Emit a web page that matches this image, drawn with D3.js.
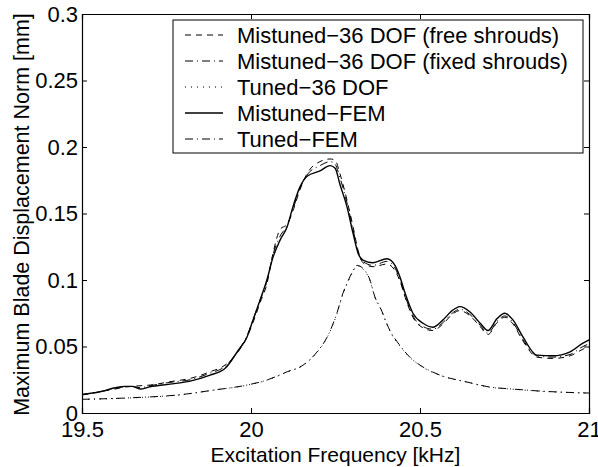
<!DOCTYPE html>
<html>
<head>
<meta charset="utf-8">
<script src="https://cdn.jsdelivr.net/npm/d3@7"></script>
<style>
  body { margin: 0; background: #fff; }
  svg { font-family: "Liberation Sans", Arial, Helvetica, sans-serif; }
</style>
</head>
<body>
<svg id="chart" width="598" height="467"></svg>
<script>
// frequency grid [kHz] and curves
const freqMist = [19.5, 19.553, 19.598, 19.627, 19.648, 19.672, 19.701, 19.76, 19.82, 19.879, 19.923, 19.962, 19.988, 20.006, 20.027, 20.047, 20.065, 20.086, 20.107, 20.124, 20.145, 20.166, 20.204, 20.234, 20.249, 20.263, 20.284, 20.302, 20.317, 20.331, 20.361, 20.402, 20.426, 20.441, 20.456, 20.479, 20.509, 20.538, 20.568, 20.595, 20.618, 20.648, 20.678, 20.701, 20.728, 20.751, 20.775, 20.805, 20.846, 20.893, 20.944, 20.982, 21.0];

const mistunedFEM = [0.014, 0.016, 0.019, 0.020, 0.020, 0.018, 0.0197, 0.0217, 0.024, 0.0285, 0.0335, 0.047, 0.057, 0.070, 0.085, 0.100, 0.117, 0.130, 0.140, 0.155, 0.170, 0.178, 0.182, 0.186, 0.184, 0.172, 0.155, 0.135, 0.120, 0.115, 0.113, 0.116, 0.111, 0.102, 0.090, 0.075, 0.0675, 0.0645, 0.070, 0.077, 0.080, 0.076, 0.0675, 0.062, 0.071, 0.075, 0.070, 0.057, 0.0435, 0.043, 0.046, 0.0525, 0.055];

const mistunedFree = [0.0135, 0.016, 0.018, 0.0195, 0.020, 0.0205, 0.021, 0.0235, 0.026, 0.031, 0.036, 0.046, 0.057, 0.068, 0.083, 0.097, 0.120, 0.138, 0.142, 0.152, 0.168, 0.180, 0.189, 0.191, 0.190, 0.180, 0.160, 0.140, 0.122, 0.113, 0.110, 0.112, 0.107, 0.099, 0.087, 0.072, 0.064, 0.062, 0.067, 0.074, 0.077, 0.073, 0.065, 0.059, 0.068, 0.072, 0.067, 0.054, 0.042, 0.041, 0.043, 0.048, 0.050];

const mistunedFixed = [0.0138, 0.016, 0.0185, 0.0198, 0.020, 0.019, 0.0205, 0.023, 0.025, 0.030, 0.035, 0.047, 0.058, 0.070, 0.085, 0.099, 0.119, 0.133, 0.141, 0.153, 0.169, 0.179, 0.186, 0.189, 0.187, 0.177, 0.158, 0.138, 0.121, 0.114, 0.111, 0.114, 0.109, 0.100, 0.088, 0.073, 0.065, 0.063, 0.068, 0.075, 0.078, 0.074, 0.066, 0.060, 0.069, 0.073, 0.068, 0.055, 0.043, 0.042, 0.044, 0.050, 0.052];

const freqTuned = [19.5, 19.65, 19.8, 19.888, 19.988, 20.047, 20.107, 20.154, 20.195, 20.225, 20.254, 20.272, 20.284, 20.3, 20.314, 20.33, 20.352, 20.367, 20.382, 20.411, 20.44, 20.47, 20.5, 20.559, 20.639, 20.707, 20.775, 20.855, 21.0];

const tunedFEM = [0.0103, 0.0115, 0.014, 0.0172, 0.021, 0.0248, 0.031, 0.036, 0.0458, 0.057, 0.075, 0.090, 0.0975, 0.106, 0.111, 0.109, 0.100, 0.087, 0.0795, 0.062, 0.051, 0.042, 0.036, 0.0285, 0.0233, 0.0195, 0.018, 0.0165, 0.015];

const tuned36 = [0.0102, 0.0114, 0.0139, 0.0171, 0.0209, 0.0247, 0.0308, 0.0358, 0.0455, 0.0566, 0.0745, 0.0895, 0.097, 0.1055, 0.1105, 0.1085, 0.0995, 0.0865, 0.079, 0.0615, 0.0505, 0.0418, 0.0358, 0.0284, 0.0232, 0.0194, 0.0179, 0.0164, 0.0149];

const xTicks = [19.5, 20, 20.5, 21];
const yTicks = [0, 0.05, 0.1, 0.15, 0.2, 0.25, 0.3];

const legendLabels = [
  "Mistuned\u221236 DOF (free shrouds)",
  "Mistuned\u221236 DOF (fixed shrouds)",
  "Tuned\u221236 DOF",
  "Mistuned\u2212FEM",
  "Tuned\u2212FEM"
];

const series = [
  { x: freqMist, y: mistunedFree, dash: "6,5", w: 1 },
  { x: freqMist, y: mistunedFixed, dash: "8,4,1,4", w: 1 },
  { x: freqTuned, y: tuned36, dash: "1,5", w: 1 },
  { x: freqMist, y: mistunedFEM, dash: null, w: 1.4 },
  { x: freqTuned, y: tunedFEM, dash: "8,4,1,4", w: 1 }
];

const margin = { left: 82, right: 9, top: 14, bottom: 54 };
const W = 598, H = 467;
const svg = d3.select("#chart");

const x = d3.scaleLinear().domain([19.5, 21]).range([margin.left, W - margin.right]);
const y = d3.scaleLinear().domain([0, 0.3]).range([H - margin.bottom, margin.top]);

svg.append("defs").append("clipPath").attr("id", "clip")
  .append("rect")
  .attr("x", margin.left).attr("y", margin.top)
  .attr("width", W - margin.left - margin.right)
  .attr("height", H - margin.top - margin.bottom);

// curves
const line = d3.line().curve(d3.curveMonotoneX);
const plot = svg.append("g").attr("clip-path", "url(#clip)");
series.forEach(s => {
  plot.append("path")
    .datum(s.x.map((f, i) => [x(f), y(s.y[i])]))
    .attr("d", line)
    .attr("fill", "none")
    .attr("stroke", "#000")
    .attr("stroke-width", s.w)
    .attr("stroke-dasharray", s.dash);
});

// axes (ticks inside, MATLAB style)
const fontSize = 22;
const axBottom = svg.append("g").attr("transform", `translate(0,${y(0)})`)
  .call(d3.axisBottom(x).tickValues(xTicks).tickSize(-5).tickPadding(8).tickFormat(d3.format("")));
const axTop = svg.append("g").attr("transform", `translate(0,${y(0.3)})`)
  .call(d3.axisTop(x).tickValues(xTicks).tickSize(-5).tickFormat(""));
const axLeft = svg.append("g").attr("transform", `translate(${x(19.5)},0)`)
  .call(d3.axisLeft(y).tickValues(yTicks).tickSize(-5).tickPadding(4).tickFormat(d3.format("")));
const axRight = svg.append("g").attr("transform", `translate(${x(21)},0)`)
  .call(d3.axisRight(y).tickValues(yTicks).tickSize(-5).tickFormat(""));

[axBottom, axTop, axLeft, axRight].forEach(g => {
  g.select(".domain").attr("stroke", "#000").attr("stroke-width", 1.2);
  g.selectAll(".tick line").attr("stroke", "#000");
  g.selectAll("text").attr("fill", "#000").style("font-size", fontSize + "px")
    .style("font-family", '"Liberation Sans", Arial, sans-serif');
});

// axis titles
svg.append("text")
  .attr("x", (x(19.5) + x(21)) / 2)
  .attr("y", 462)
  .attr("text-anchor", "middle")
  .style("font-size", "21px")
  .text("Excitation Frequency [kHz]");

svg.append("text")
  .attr("transform", `translate(29,${(y(0) + y(0.3)) / 2 + 1}) rotate(-90)`)
  .attr("text-anchor", "middle")
  .style("font-size", "21.5px")
  .text("Maximum Blade Displacement Norm [mm]");

// legend
const lg = svg.append("g");
lg.append("rect")
  .attr("x", 173).attr("y", 20)
  .attr("width", 410).attr("height", 133)
  .attr("fill", "#fff").attr("stroke", "#000").attr("stroke-width", 1);

legendLabels.forEach((lab, i) => {
  const cy = 35 + i * 26;
  lg.append("line")
    .attr("x1", 185).attr("x2", 223)
    .attr("y1", cy).attr("y2", cy)
    .attr("stroke", "#000")
    .attr("stroke-width", series[i].w)
    .attr("stroke-dasharray", series[i].dash);
  lg.append("text")
    .attr("x", 237).attr("y", cy)
    .attr("dy", "0.35em")
    .style("font-size", fontSize + "px")
    .text(lab);
});
</script>
</body>
</html>
